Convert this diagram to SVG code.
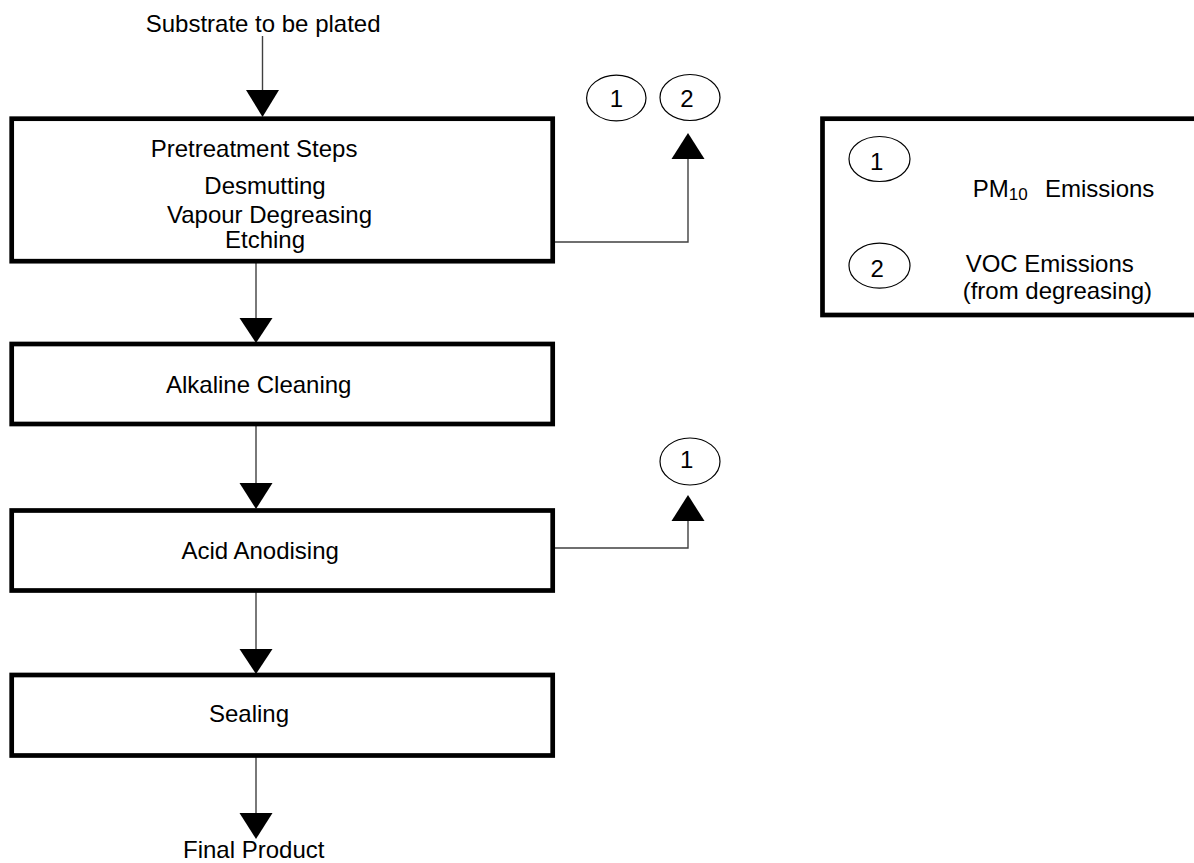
<svg xmlns="http://www.w3.org/2000/svg" width="1194" height="863" viewBox="0 0 1194 863">
<style>
text{font-family:"Liberation Sans",Arial,sans-serif;font-size:24px;fill:#000}
.box{fill:#fff;stroke:#000;stroke-width:4.7}
.ell{fill:#fff;stroke:#000;stroke-width:1.2}
.ln{fill:none;stroke:#404040;stroke-width:1.4}
.ah{fill:#000}
.c{text-anchor:middle}
</style>
<rect width="1194" height="863" fill="#fff"/>
<g id="connectors">
<path class="ln" d="M262.5 36V92"/>
<polygon class="ah" points="246,90 279,90 262.5,117"/>
<path class="ln" d="M256 261V320"/>
<polygon class="ah" points="239.5,318 272.5,318 256,343"/>
<path class="ln" d="M256 424V485"/>
<polygon class="ah" points="239.5,483 272.5,483 256,509"/>
<path class="ln" d="M256 590V651"/>
<polygon class="ah" points="239.5,649 272.5,649 256,674"/>
<path class="ln" d="M256 755V815"/>
<polygon class="ah" points="239.5,813 272.5,813 256,839"/>
<path class="ln" d="M553 242H688V157"/>
<polygon class="ah" points="671.5,159 704.5,159 688,133"/>
<path class="ln" d="M553 548H688V519"/>
<polygon class="ah" points="671.5,521 704.5,521 688,495"/>
</g>
<g id="source"><text x="145.7" y="31.7">Substrate to be plated</text></g>
<g id="pretreatment">
<rect class="box" x="11.7" y="118.7" width="541" height="142.5"/>
<text x="150.7" y="157.3">Pretreatment Steps</text>
<text x="204.3" y="194.3">Desmutting</text>
<text x="167" y="222.7">Vapour Degreasing</text>
<text x="225" y="248.3">Etching</text>
</g>
<g id="alkaline">
<rect class="box" x="11.7" y="344" width="541" height="80"/>
<text x="166" y="393.3">Alkaline Cleaning</text>
</g>
<g id="acid">
<rect class="box" x="11.7" y="510.5" width="541" height="80"/>
<text x="181.4" y="559.3">Acid Anodising</text>
</g>
<g id="sealing">
<rect class="box" x="11.7" y="675" width="541" height="80.5"/>
<text x="209" y="721.7">Sealing</text>
</g>
<g id="final"><text x="183" y="857.5">Final Product</text></g>
<g id="em1-top">
<ellipse class="ell" cx="616.3" cy="98" rx="29.7" ry="22.8"/>
<text class="c" x="616.5" y="106.7">1</text>
</g>
<g id="em2-top">
<ellipse class="ell" cx="690" cy="97.5" rx="30" ry="23"/>
<text class="c" x="687" y="106.7">2</text>
</g>
<g id="em1-acid">
<ellipse class="ell" cx="690" cy="461.5" rx="30" ry="23.5"/>
<text class="c" x="686.7" y="468.3">1</text>
</g>
<g id="legend">
<rect class="box" x="822.5" y="118.7" width="380" height="196.3"/>
<ellipse class="ell" cx="879.5" cy="159" rx="30.5" ry="22.5"/>
<text class="c" x="876.7" y="170">1</text>
<ellipse class="ell" cx="879.5" cy="265.7" rx="30.5" ry="22.5"/>
<text class="c" x="877.3" y="277">2</text>
<text x="972.7" y="196.7">PM<tspan font-size="17" dy="3">10</tspan><tspan x="1045" dy="-3">Emissions</tspan></text>
<text x="965.7" y="272">VOC Emissions</text>
<text x="962.7" y="299">(from degreasing)</text>
</g>
</svg>
